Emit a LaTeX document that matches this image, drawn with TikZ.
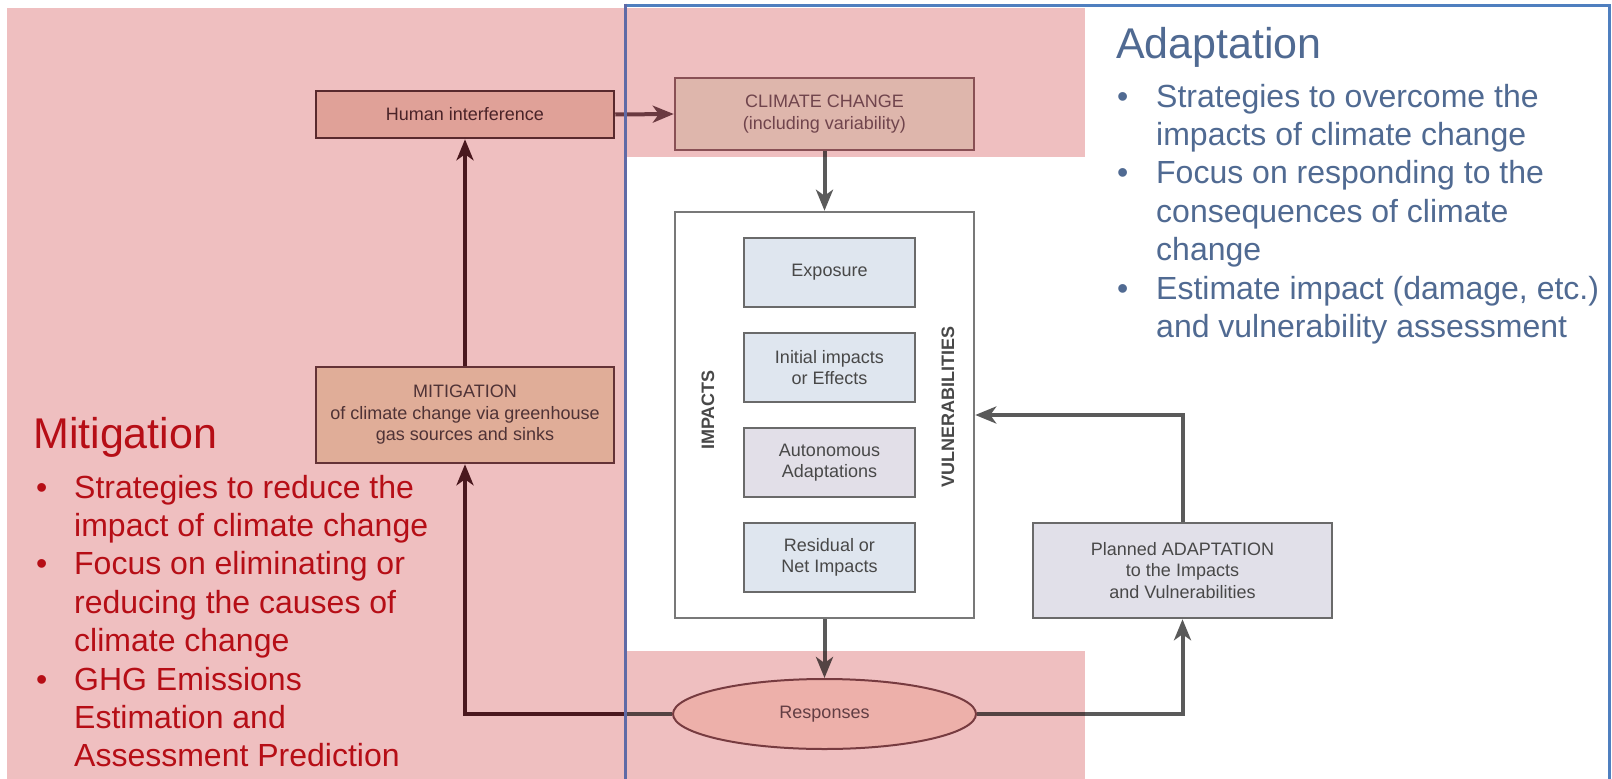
\documentclass[tikz,border=0pt]{standalone}
\usepackage{fontspec}
\setmainfont{Liberation Sans}
\usetikzlibrary{arrows.meta,shapes.geometric}
\definecolor{pinkov}{RGB}{239,191,192}
\definecolor{hfill}{RGB}{239,215,203}
\definecolor{hdraw}{RGB}{96,56,61}
\definecolor{htext}{RGB}{80,48,54}
\definecolor{cfill}{RGB}{237,243,229}
\definecolor{cdraw}{RGB}{147,107,113}
\definecolor{ctext}{RGB}{120,92,102}
\definecolor{mfill}{RGB}{239,231,202}
\definecolor{mdraw}{RGB}{107,67,73}
\definecolor{mtext}{RGB}{85,68,72}
\definecolor{rfill}{RGB}{253,236,226}
\definecolor{rdraw}{RGB}{128,80,86}
\definecolor{rtext}{RGB}{105,82,90}
\definecolor{darkpath}{RGB}{80,33,40}
\definecolor{harrow}{RGB}{114,77,85}
\definecolor{grayline}{RGB}{90,90,90}
\definecolor{boxgray}{RGB}{106,106,106}
\definecolor{bigbox}{RGB}{120,120,120}
\definecolor{bluefill}{RGB}{223,230,239}
\definecolor{lavfill}{RGB}{226,223,232}
\definecolor{planfill}{RGB}{225,224,233}
\definecolor{intext}{RGB}{72,72,72}
\definecolor{mitred}{RGB}{182,14,22}
\definecolor{adapblue}{RGB}{80,106,146}
\definecolor{frametop}{RGB}{79,127,191}
\definecolor{frameleft}{RGB}{95,106,166}
\begin{document}
\begin{tikzpicture}[x=1pt,y=-1pt,
  dbox/.style={draw, line width=2.5pt, inner sep=0pt, align=center,
    font=\fontsize{18}{21.5}\selectfont},
  inbox/.style={dbox, draw=boxgray, text=intext, minimum width=171pt, minimum height=69pt},
  arr/.style={line width=4pt, -{Stealth[length=21pt,width=17pt,inset=6pt]}},
  plain/.style={line width=4pt},
  overlay pink/.style={fill=pinkov, blend mode=multiply},
  bigtext/.style={inner sep=0pt, font=\fontsize{32}{38.4}\selectfont},
  headtext/.style={inner sep=0pt, font=\fontsize{43}{48}\selectfont}
]
\useasboundingbox (0,0) rectangle (1612,779);
\fill[white] (0,0) rectangle (1612,779);

% ---- diagram ----
\node[dbox, fill=hfill, draw=hdraw, text=htext, minimum width=298pt, minimum height=47pt] (human) at (465,114.5) {Human interference};
\node[dbox, fill=cfill, draw=cdraw, text=ctext, minimum width=299pt, minimum height=72pt] (climate) at (824.5,114) {CLIMATE CHANGE\\(including variability)};
\node[dbox, fill=white, draw=bigbox, minimum width=299pt, minimum height=406pt] (big) at (824.5,415) {};
\node[inbox, fill=bluefill] (expo) at (829.5,272.5) {Exposure};
\node[inbox, fill=bluefill] (init) at (829.5,367.5) {Initial impacts\\or Effects};
\node[inbox, fill=lavfill] (auto) at (829.5,462.5) {Autonomous\\Adaptations};
\node[inbox, fill=bluefill] (resid) at (829.5,557.5) {Residual or\\Net Impacts};
\node[inner sep=0pt, rotate=90, text=intext, font=\fontsize{18}{21.5}\selectfont\bfseries] (implab) at (708,410) {IMPACTS};
\node[inner sep=0pt, rotate=90, text=intext, font=\fontsize{18}{21.5}\selectfont\bfseries] (vullab) at (948,407) {VULNERABILITIES};
\node[dbox, ellipse, fill=rfill, draw=rdraw, text=rtext, line width=2pt, minimum width=303pt, minimum height=70pt] (resp) at (824.5,714) {Responses};
\node[dbox, fill=mfill, draw=mdraw, text=mtext, minimum width=298pt, minimum height=96pt] (mit) at (465,415) {MITIGATION\\of climate change via greenhouse\\gas sources and sinks};
\node[dbox, fill=planfill, draw=boxgray, text=intext, minimum width=299pt, minimum height=95pt] (plan) at (1182.5,570.5) {Planned ADAPTATION\\to the Impacts\\and Vulnerabilities};
\coordinate (bl) at (626,714);

% ---- connectors ----
\draw[arr, harrow] (human.east) -- (climate.west);
\draw[arr, grayline] (climate.south) -- (big.north);
\draw[arr, grayline] (big.south) -- (resp.north);
\draw[arr, darkpath] (resp.west) -| (mit.south);
\draw[plain, grayline] (resp.west) -- (bl);
\draw[arr, darkpath] (mit.north) -- (human.south);
\draw[arr, grayline] (resp.east) -| (plan.south);
\draw[arr, grayline] (plan.north) |- (big.east);

% ---- pink overlays ----
\fill[overlay pink] (7,8) rectangle (625,779);
\fill[overlay pink] (625,8) rectangle (1085,157);
\fill[overlay pink] (625,651) rectangle (1085,779);

% ---- frame ----
\draw[frametop, line width=3pt] (625,5) -- (1609.5,5) -- (1609.5,779);
\draw[frameleft, line width=3pt] (625,3.5) -- (625,779);

% ---- texts ----
\node[headtext, anchor=base west, text=mitred] (mithead) at (33,448) {Mitigation};
\node[bigtext, anchor=base west, text=mitred] (mitlist) at (36,498) {\begin{tabular}[t]{@{}p{38pt}@{}l@{}}\textbullet & Strategies to reduce the\\ & impact of climate change\\ \textbullet & Focus on eliminating or\\ & reducing the causes of\\ & climate change\\ \textbullet & GHG Emissions\\ & Estimation and\\ & Assessment Prediction\end{tabular}};
\node[headtext, anchor=base west, text=adapblue] (adahead) at (1116,58) {Adaptation};
\node[bigtext, anchor=base west, text=adapblue] (adalist) at (1117,107) {\begin{tabular}[t]{@{}p{39pt}@{}l@{}}\textbullet & Strategies to overcome the\\ & impacts of climate change\\ \textbullet & Focus on responding to the\\ & consequences of climate\\ & change\\ \textbullet & Estimate impact (damage, etc.)\\ & and vulnerability assessment\end{tabular}};
\end{tikzpicture}
\end{document}
